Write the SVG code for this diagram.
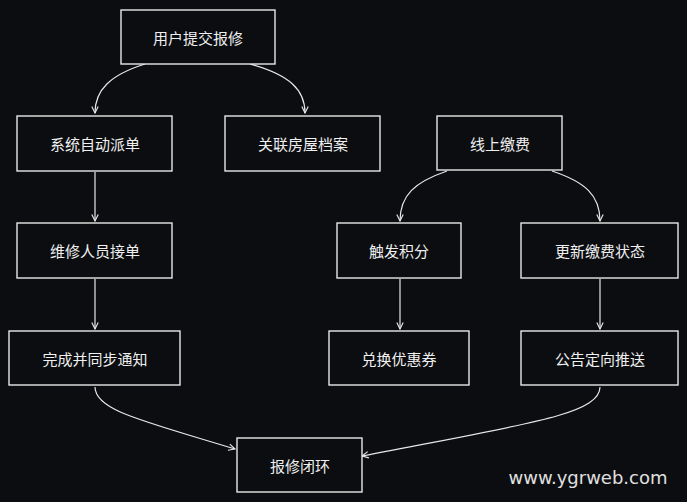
<svg xmlns="http://www.w3.org/2000/svg" width="687" height="502" viewBox="0 0 687 502">
<defs>
<style>
.n rect{fill:#0b0d10;stroke:#e8e8e8;stroke-width:1.4}
.n text{fill:#f0f0f0;font-family:"Noto Sans CJK SC","Noto Sans",sans-serif;font-size:15px;text-anchor:middle;dominant-baseline:central}
#edges path{fill:none;stroke:#e8e8e8;stroke-width:1.2;marker-end:url(#a)}
</style>
<marker id="a" viewBox="0 0 10 10" refX="9" refY="5" markerWidth="8" markerHeight="8" orient="auto-start-reverse" markerUnits="userSpaceOnUse"><path d="M1,1 L9,5 L1,9" fill="none" stroke="#e8e8e8" stroke-width="1.4"/></marker>
</defs>
<rect width="687" height="502" fill="#0b0d10"/>
<g id="edges">
<path d="M145,64 C110,75 95,90 95,113"/>
<path d="M250,64 C290,75 305,90 305,113"/>
<path d="M447,171 C415,182 400,195 400,221"/>
<path d="M552,171 C585,182 600,195 600,221"/>
<path d="M95,172 L95,221"/>
<path d="M95,279 L95,329"/>
<path d="M400,279 L400,329"/>
<path d="M600,279 L600,329"/>
<path d="M95,387 C95,410 140,420 235,449"/>
<path d="M600,387 C600,415 520,425 362,456"/>
</g>
<g id="n1" class="n"><rect x="121" y="10" width="154" height="54"/><text x="198" y="37">用户提交报修</text></g>
<g id="n2" class="n"><rect x="17" y="116" width="155" height="55"/><text x="95" y="143">系统自动派单</text></g>
<g id="n3" class="n"><rect x="225" y="116" width="155" height="55"/><text x="303" y="143">关联房屋档案</text></g>
<g id="n4" class="n"><rect x="437" y="116" width="125" height="54"/><text x="500" y="143">线上缴费</text></g>
<g id="n5" class="n"><rect x="17" y="223" width="155" height="55"/><text x="95" y="250">维修人员接单</text></g>
<g id="n6" class="n"><rect x="337" y="223" width="124" height="55"/><text x="399" y="250">触发积分</text></g>
<g id="n7" class="n"><rect x="521" y="223" width="157" height="55"/><text x="600" y="250">更新缴费状态</text></g>
<g id="n8" class="n"><rect x="9" y="331" width="171" height="54"/><text x="95" y="358">完成并同步通知</text></g>
<g id="n9" class="n"><rect x="329" y="331" width="140" height="54"/><text x="399" y="358">兑换优惠券</text></g>
<g id="n10" class="n"><rect x="521" y="331" width="157" height="54"/><text x="600" y="358">公告定向推送</text></g>
<g id="n11" class="n"><rect x="237" y="438" width="125" height="54"/><text x="300" y="465">报修闭环</text></g>
<text x="588" y="477" fill="#e0e0e0" font-family="'DejaVu Sans',sans-serif" font-size="18" text-anchor="middle" dominant-baseline="central">www.ygrweb.com</text>
</svg>
